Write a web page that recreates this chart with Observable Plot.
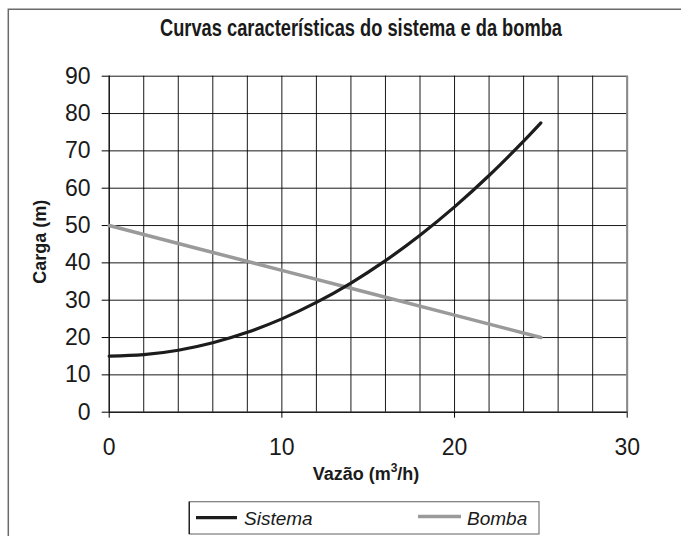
<!DOCTYPE html>
<html>
<head>
<meta charset="utf-8">
<script src="https://cdn.jsdelivr.net/npm/d3@7"></script>
<script src="https://cdn.jsdelivr.net/npm/@observablehq/plot@0.6"></script>
<style>
  html, body { margin: 0; padding: 0; background: #fff; }
  svg { display: block; }
</style>
</head>
<body>
<script>
// ---- data ----
const chartTitle = "Curvas características do sistema e da bomba";
const xLabel = "Vazão (m";
const yLabel = "Carga (m)";
const seriesNames = ["Sistema", "Bomba"];

const vazaoSistema = [0, 2, 4, 6, 8, 10, 12, 14, 16, 18, 20, 22, 24, 25];
const cargaSistema = [15, 15.4, 16.6, 18.6, 21.4, 25, 29.4, 34.6, 40.6, 47.4, 55, 63.4, 72.6, 77.5];

const vazaoBomba = [0, 5, 10, 15, 20, 25];
const cargaBomba = [50, 44, 38, 32, 26, 20];

const xTicks = [0, 10, 20, 30];
const xGrid = [0, 2, 4, 6, 8, 10, 12, 14, 16, 18, 20, 22, 24, 26, 28, 30];
const yTicks = [0, 10, 20, 30, 40, 50, 60, 70, 80, 90];

const sistema = vazaoSistema.map((q, i) => ({q, h: cargaSistema[i]}));
const bomba = vazaoBomba.map((q, i) => ({q, h: cargaBomba[i]}));

const colSistema = "#1c1c1c";
const colBomba = "#9a9a9a";

const svg = Plot.plot({
  width: 682,
  height: 536,
  marginLeft: 108.7,
  marginRight: 55.3,
  marginTop: 75.7,
  marginBottom: 124.3,
  x: {domain: [0, 30]},
  y: {domain: [0, 90]},
  style: {fontFamily: "'Liberation Sans', Arial, sans-serif", fontSize: "23px", background: "#fff", color: "#1a1a1a"},
  marks: [
    Plot.gridX(xGrid, {stroke: "#000", strokeOpacity: 0.9, strokeWidth: 1}),
    Plot.gridY(yTicks, {stroke: "#000", strokeOpacity: 0.9, strokeWidth: 1}),
    Plot.ruleX([30], {stroke: "#8a8a8a", strokeWidth: 2}),
    Plot.axisX(xTicks, {tickSize: 6, tickPadding: 20, fontSize: 23, label: null, stroke: "#000"}),
    Plot.axisY(yTicks, {tickSize: 7, tickPadding: 11.7, fontSize: 23, label: null, stroke: "#000"}),
    Plot.ruleY([0], {stroke: "#000", strokeWidth: 1}),
    Plot.ruleX([0], {stroke: "#000", strokeWidth: 1}),
    Plot.line(bomba, {x: "q", y: "h", stroke: colBomba, strokeWidth: 3.5}),
    Plot.line(sistema, {x: "q", y: "h", curve: "catmull-rom", stroke: colSistema, strokeWidth: 3.2})
  ]
});

const s = d3.select(svg);
document.body.appendChild(svg);

// outer frame (top and left edges visible)
s.append("path")
  .attr("d", "M8.3,536V9.3H681")
  .attr("fill", "none").attr("stroke", "#6a6a6a").attr("stroke-width", 1.5);

// title
const title = s.append("text")
  .attr("x", 361).attr("y", 36)
  .attr("text-anchor", "middle")
  .attr("font-family", "'Liberation Sans Narrow', 'Liberation Sans', Arial, sans-serif")
  .attr("font-weight", "bold").attr("font-size", 23)
  .attr("fill", "#1a1a1a")
  .text(chartTitle);
const natural = title.node().getComputedTextLength();
if (natural > 425 || natural < 380) {
  title.attr("textLength", 402).attr("lengthAdjust", "spacingAndGlyphs");
}

// x label with superscript
const xl = s.append("text")
  .attr("x", 366).attr("y", 480)
  .attr("text-anchor", "middle")
  .attr("font-family", "'Liberation Sans', Arial, sans-serif")
  .attr("font-weight", "bold").attr("font-size", 18)
  .attr("fill", "#1a1a1a");
xl.append("tspan").text(xLabel);
xl.append("tspan").attr("dy", -8).attr("font-size", 12).text("3");
xl.append("tspan").attr("dy", 8).text("/h)");

// y label
s.append("text")
  .attr("transform", "translate(46,241.7) rotate(-90)")
  .attr("text-anchor", "middle")
  .attr("font-family", "'Liberation Sans', Arial, sans-serif")
  .attr("font-weight", "bold").attr("font-size", 18)
  .attr("fill", "#1a1a1a")
  .text(yLabel);

// legend
const lg = s.append("g").attr("text-anchor", "start");
lg.append("rect")
  .attr("x", 189.3).attr("y", 501.7).attr("width", 349.7).attr("height", 32.3)
  .attr("fill", "#fff").attr("stroke", "#7a7a7a").attr("stroke-width", 1.2);
lg.append("line").attr("x1", 189.3).attr("x2", 189.3).attr("y1", 501.7).attr("y2", 534)
  .attr("stroke", "#222").attr("stroke-width", 1.4);
lg.append("line").attr("x1", 196).attr("x2", 237).attr("y1", 517.7).attr("y2", 517.7)
  .attr("stroke", colSistema).attr("stroke-width", 3.2);
lg.append("text").attr("x", 244).attr("y", 525)
  .attr("text-anchor", "start")
  .attr("font-family", "'Liberation Sans', Arial, sans-serif")
  .attr("font-style", "italic").attr("font-size", 19).attr("fill", "#1a1a1a")
  .text(seriesNames[0]);
lg.append("line").attr("x1", 418).attr("x2", 461).attr("y1", 516.5).attr("y2", 516.5)
  .attr("stroke", colBomba).attr("stroke-width", 3.5);
lg.append("text").attr("x", 467).attr("y", 525)
  .attr("text-anchor", "start")
  .attr("font-family", "'Liberation Sans', Arial, sans-serif")
  .attr("font-style", "italic").attr("font-size", 19).attr("fill", "#1a1a1a")
  .text(seriesNames[1]);
</script>
</body>
</html>
